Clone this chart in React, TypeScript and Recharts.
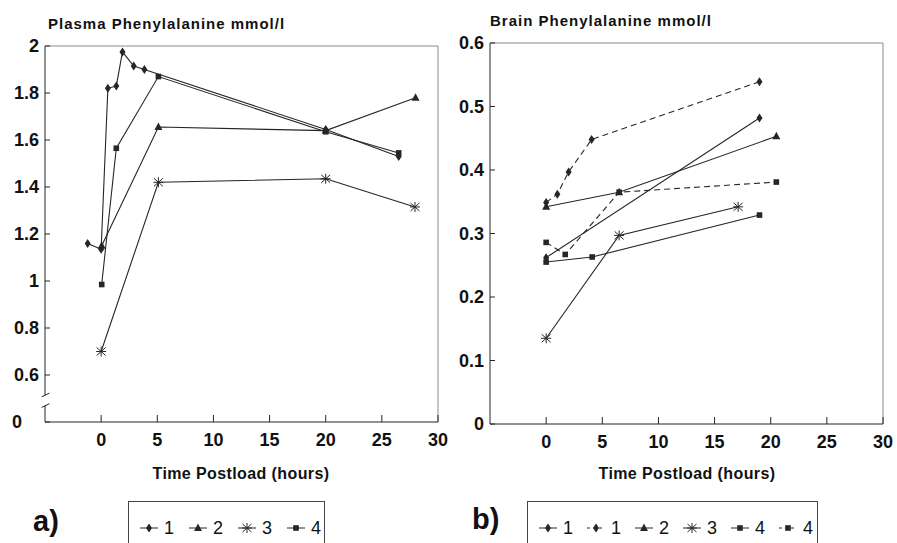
import { LineChart, Line, XAxis, YAxis, ReferenceLine } from 'recharts';

// a) plasma phenylalanine (mmol/l) vs hours postload
const plasmaX1 = [-1.2, 0, 0.6, 1.35, 1.9, 2.9, 3.85, 20, 26.5];
const plasmaY1 = [1.16, 1.135, 1.82, 1.83, 1.975, 1.915, 1.9, 1.645, 1.53];
const plasmaX2 = [0.05, 5.1, 20, 28];
const plasmaY2 = [1.15, 1.655, 1.64, 1.78];
const plasmaX3 = [0, 5.1, 20, 27.95];
const plasmaY3 = [0.7, 1.42, 1.435, 1.315];
const plasmaX4 = [0.05, 1.35, 5.1, 20, 26.5];
const plasmaY4 = [0.985, 1.565, 1.87, 1.635, 1.545];

// b) brain phenylalanine (mmol/l)
const brainX1 = [0, 19];
const brainY1 = [0.262, 0.482];
const brainX1d = [0, 1, 2, 4.05, 19];
const brainY1d = [0.349, 0.362, 0.397, 0.448, 0.539];
const brainX2 = [0, 6.5, 20.5];
const brainY2 = [0.342, 0.365, 0.453];
const brainX3 = [0, 6.5, 17.1];
const brainY3 = [0.135, 0.297, 0.342];
const brainX4 = [0, 4.1, 19];
const brainY4 = [0.255, 0.263, 0.329];
const brainX4d = [0, 1.7, 6.5, 20.5];
const brainY4d = [0.286, 0.267, 0.365, 0.381];

const xTicks = [0, 5, 10, 15, 20, 25, 30];
const plasmaTicks = [0.4, 0.6, 0.8, 1, 1.2, 1.4, 1.6, 1.8, 2];
const brainTicks = [0, 0.1, 0.2, 0.3, 0.4, 0.5, 0.6];

const INK = '#262626';
const FRAME = '#8a8a8a';
const FONT = '"Liberation Sans", Arial, sans-serif';

type Mark = 'diamond' | 'triangle' | 'star' | 'square';

const toRows = (xs: number[], ys: number[]) => xs.map((x, i) => ({ x, y: ys[i] }));

const plasmaSeries = [
  { key: 'p1', label: '1', mark: 'diamond' as Mark, dashed: false, data: toRows(plasmaX1, plasmaY1) },
  { key: 'p2', label: '2', mark: 'triangle' as Mark, dashed: false, data: toRows(plasmaX2, plasmaY2) },
  { key: 'p3', label: '3', mark: 'star' as Mark, dashed: false, data: toRows(plasmaX3, plasmaY3) },
  { key: 'p4', label: '4', mark: 'square' as Mark, dashed: false, data: toRows(plasmaX4, plasmaY4) },
];

const brainSeries = [
  { key: 'b1', label: '1', mark: 'diamond' as Mark, dashed: false, data: toRows(brainX1, brainY1) },
  { key: 'b1d', label: '1', mark: 'diamond' as Mark, dashed: true, data: toRows(brainX1d, brainY1d) },
  { key: 'b2', label: '2', mark: 'triangle' as Mark, dashed: false, data: toRows(brainX2, brainY2) },
  { key: 'b3', label: '3', mark: 'star' as Mark, dashed: false, data: toRows(brainX3, brainY3) },
  { key: 'b4', label: '4', mark: 'square' as Mark, dashed: false, data: toRows(brainX4, brainY4) },
  { key: 'b4d', label: '4', mark: 'square' as Mark, dashed: true, data: toRows(brainX4d, brainY4d) },
];

function Marker({ cx, cy, mark, color = INK }: { cx: number; cy: number; mark: Mark; color?: string }) {
  if (cx == null || cy == null) return null;
  switch (mark) {
    case 'diamond':
      return <path d={`M${cx},${cy - 4.5}L${cx + 3},${cy}L${cx},${cy + 4.5}L${cx - 3},${cy}Z`} fill={color} />;
    case 'triangle':
      return <path d={`M${cx},${cy - 4.5}L${cx + 4},${cy + 3}L${cx - 4},${cy + 3}Z`} fill={color} />;
    case 'square':
      return <rect x={cx - 2.8} y={cy - 2.8} width={5.6} height={5.6} fill={color} />;
    default:
      return (
        <g stroke={color} strokeWidth={1}>
          <line x1={cx - 4.5} y1={cy - 4} x2={cx + 4.5} y2={cy + 4} />
          <line x1={cx - 4.5} y1={cy + 4} x2={cx + 4.5} y2={cy - 4} />
          <line x1={cx} y1={cy - 5} x2={cx} y2={cy + 5} />
          <line x1={cx - 5} y1={cy} x2={cx + 5} y2={cy} />
        </g>
      );
  }
}

const TICK_FONT = { fontSize: 18, fontWeight: 700, fill: '#111', fontFamily: FONT };

// y tick: the broken-axis "0" sits flush left like in the original figure
function YTick({ x, y, payload, fmt, shiftZero }: any) {
  const label = fmt(payload.value);
  const left = shiftZero && label === '0';
  return (
    <text x={left ? 12 : x} y={y} dy="0.36em" textAnchor={left ? 'start' : 'end'} {...TICK_FONT}>
      {label}
    </text>
  );
}

function Panel({ series, ticks, domain, fmt, width, margin, yWidth, broken }: any) {
  return (
    <LineChart width={width} height={460} margin={margin}>
      <XAxis
        type="number"
        dataKey="x"
        domain={[-5, 30]}
        ticks={xTicks}
        allowDataOverflow
        tickSize={-7}
        tickMargin={18}
        tick={TICK_FONT}
        stroke={INK}
        height={30}
      />
      <YAxis
        type="number"
        domain={domain}
        ticks={ticks}
        width={yWidth}
        tickSize={-5}
        tickMargin={11}
        tick={<YTick fmt={fmt} shiftZero={broken} />}
        stroke={INK}
        axisLine={!broken}
        allowDataOverflow
      />
      <ReferenceLine y={domain[1]} stroke={FRAME} />
      <ReferenceLine x={30} stroke={FRAME} />
      {broken && (
        <>
          <ReferenceLine segment={[{ x: -5, y: 0.4 }, { x: -5, y: 0.47 }]} stroke={INK} ifOverflow="visible" />
          <ReferenceLine segment={[{ x: -5, y: 0.515 }, { x: -5, y: 2 }]} stroke={INK} ifOverflow="visible" />
          <ReferenceLine segment={[{ x: -5.3, y: 0.462 }, { x: -4.6, y: 0.478 }]} stroke={INK} ifOverflow="visible" />
          <ReferenceLine segment={[{ x: -5.3, y: 0.507 }, { x: -4.6, y: 0.523 }]} stroke={INK} ifOverflow="visible" />
        </>
      )}
      {series.map((s: any) => (
        <Line
          key={s.key}
          data={s.data}
          dataKey="y"
          type="linear"
          stroke={INK}
          strokeWidth={1.1}
          strokeDasharray={s.dashed ? '6 4' : undefined}
          dot={(p: any) => <Marker key={`${s.key}-${p.index}`} cx={p.cx} cy={p.cy} mark={s.mark} />}
          activeDot={false}
          isAnimationActive={false}
        />
      ))}
    </LineChart>
  );
}

function LegendBox({ series, left, width, gap }: any) {
  return (
    <div
      style={{
        position: 'absolute', left, top: 501, width, height: 50,
        borderTop: '1px solid #444', borderLeft: '1px solid #444', borderRight: '1px solid #444',
        display: 'flex', alignItems: 'flex-start', paddingLeft: 10, paddingTop: 16, boxSizing: 'border-box',
      }}
    >
      {series.map((s: any) => (
        <div key={s.key} style={{ display: 'flex', alignItems: 'center', marginRight: gap }}>
          <svg width={20} height={12}>
            <line x1={1} y1={6} x2={19} y2={6} stroke={INK} strokeWidth={1} strokeDasharray={s.dashed ? '3 3' : undefined} />
            <Marker cx={10} cy={6} mark={s.mark} />
          </svg>
          <span style={{ fontFamily: FONT, fontSize: 18, lineHeight: '20px', color: '#111', marginLeft: 5 }}>{s.label}</span>
        </div>
      ))}
    </div>
  );
}

const text = (extra: any) => ({ position: 'absolute' as const, fontFamily: FONT, fontWeight: 700, color: '#111', whiteSpace: 'nowrap' as const, lineHeight: 1, ...extra });

export default function App() {
  return (
    <div style={{ position: 'absolute', left: 0, top: 0, width: 897, height: 543, background: '#fff', overflow: 'hidden' }}>
      <div style={{ position: 'absolute', left: 0, top: 0 }}>
        <Panel
          series={plasmaSeries}
          ticks={plasmaTicks}
          domain={[0.4, 2]}
          fmt={(v: number) => (v === 0.4 ? '0' : String(v))}
          width={450}
          margin={{ top: 46, right: 12, left: 0, bottom: 8 }}
          yWidth={45}
          broken
        />
      </div>
      <div style={{ position: 'absolute', left: 450, top: 0 }}>
        <Panel
          series={brainSeries}
          ticks={brainTicks}
          domain={[0, 0.6]}
          fmt={(v: number) => (v === 0 ? '0' : v.toFixed(1))}
          width={447}
          margin={{ top: 43, right: 14, left: 0, bottom: 6 }}
          yWidth={40}
        />
      </div>

      <div style={text({ left: 48, top: 16, fontSize: 15, letterSpacing: 1 })}>Plasma Phenylalanine mmol/l</div>
      <div style={text({ left: 490, top: 13, fontSize: 15, letterSpacing: 1 })}>Brain Phenylalanine mmol/l</div>

      <div style={text({ left: 241, top: 466, fontSize: 16, letterSpacing: 0.4, transform: 'translateX(-50%)' })}>Time Postload (hours)</div>
      <div style={text({ left: 687, top: 466, fontSize: 16, letterSpacing: 0.4, transform: 'translateX(-50%)' })}>Time Postload (hours)</div>

      <div style={text({ left: 33, top: 507, fontSize: 29 })}>a)</div>
      <div style={text({ left: 472, top: 505, fontSize: 29 })}>b)</div>
      <LegendBox series={plasmaSeries} left={128} width={197} gap={14} />
      <LegendBox series={brainSeries} left={527} width={291} gap={13} />
    </div>
  );
}
